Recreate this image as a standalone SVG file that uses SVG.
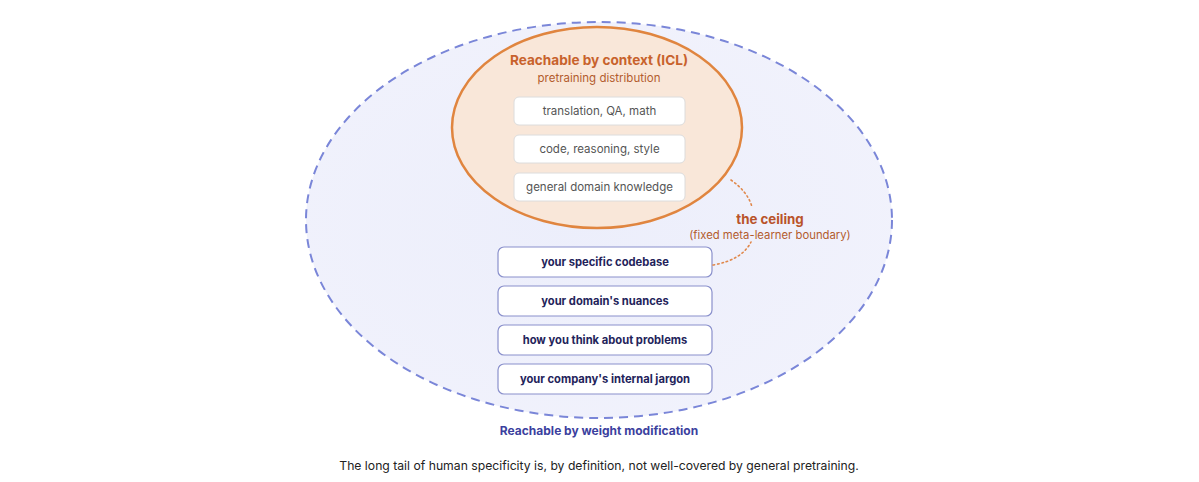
<svg xmlns="http://www.w3.org/2000/svg" width="1199" height="482" viewBox="0 0 1199 482">
<defs>
<style>
.t{font-family:Inter,"Noto Sans","Liberation Sans",sans-serif;text-anchor:middle}
.inner rect{fill:#fff;stroke:#dcdcdc;stroke-width:1}
.inner text{font-size:11.5px;fill:#555}
.outer rect{fill:#fff;stroke:#8a90cc;stroke-width:1.2}
.outer text{font-size:11.2px;font-weight:700;fill:#23235a}
.dot{fill:none;stroke:#e0874a;stroke-width:1.6;stroke-dasharray:1.5 3;stroke-linecap:round}
</style>
<radialGradient id="bg" cx="0.45" cy="0.5" r="0.6">
<stop offset="0" stop-color="#eceefb"/>
<stop offset="1" stop-color="#f1f2fc"/>
</radialGradient>
</defs>
<rect width="1199" height="482" fill="#fff"/>
<g id="weight-region">
<ellipse cx="599" cy="220" rx="293" ry="198" fill="url(#bg)" stroke="#7a86d8" stroke-width="2" stroke-dasharray="9 6"/>
<text class="t" x="599" y="435" font-size="12" font-weight="700" fill="#3b3f9e">Reachable by weight modification</text>
</g>
<g id="context-region">
<ellipse cx="597" cy="127.5" rx="145" ry="100.5" fill="#f9e7d9" stroke="#e0853f" stroke-width="2.5"/>
<text class="t" x="599" y="65" font-size="13.6" font-weight="700" fill="#c8622c">Reachable by context (ICL)</text>
<text class="t" x="599" y="82" font-size="11.5" fill="#b35c2e">pretraining distribution</text>
</g>
<g id="icl-1" class="inner"><rect x="514" y="97" width="171" height="28" rx="5"/><text class="t" x="599.5" y="115">translation, QA, math</text></g>
<g id="icl-2" class="inner"><rect x="514" y="135" width="171" height="28" rx="5"/><text class="t" x="599.5" y="153">code, reasoning, style</text></g>
<g id="icl-3" class="inner"><rect x="514" y="173" width="171" height="28" rx="5"/><text class="t" x="599.5" y="191">general domain knowledge</text></g>
<g id="w-1" class="outer"><rect x="498" y="247" width="214" height="30" rx="6"/><text class="t" x="605" y="266">your specific codebase</text></g>
<g id="w-2" class="outer"><rect x="498" y="286" width="214" height="30" rx="6"/><text class="t" x="605" y="305">your domain's nuances</text></g>
<g id="w-3" class="outer"><rect x="498" y="325" width="214" height="30" rx="6"/><text class="t" x="605" y="344">how you think about problems</text></g>
<g id="w-4" class="outer"><rect x="498" y="364" width="214" height="30" rx="6"/><text class="t" x="605" y="383">your company's internal jargon</text></g>
<g id="ceiling">
<text class="t" x="770" y="224" font-size="13.3" font-weight="700" fill="#b9532a">the ceiling</text>
<text class="t" x="770" y="239" font-size="11.3" fill="#b35c2e">(fixed meta-learner boundary)</text>
</g>
<g id="connectors">
<path class="dot" d="M731,180 Q748,192 752,207"/>
<path class="dot" d="M713,265 Q742,260 751,242"/>
</g>
<text class="t" x="599" y="470" font-size="12.2" fill="#222">The long tail of human specificity is, by definition, not well-covered by general pretraining.</text>
</svg>
